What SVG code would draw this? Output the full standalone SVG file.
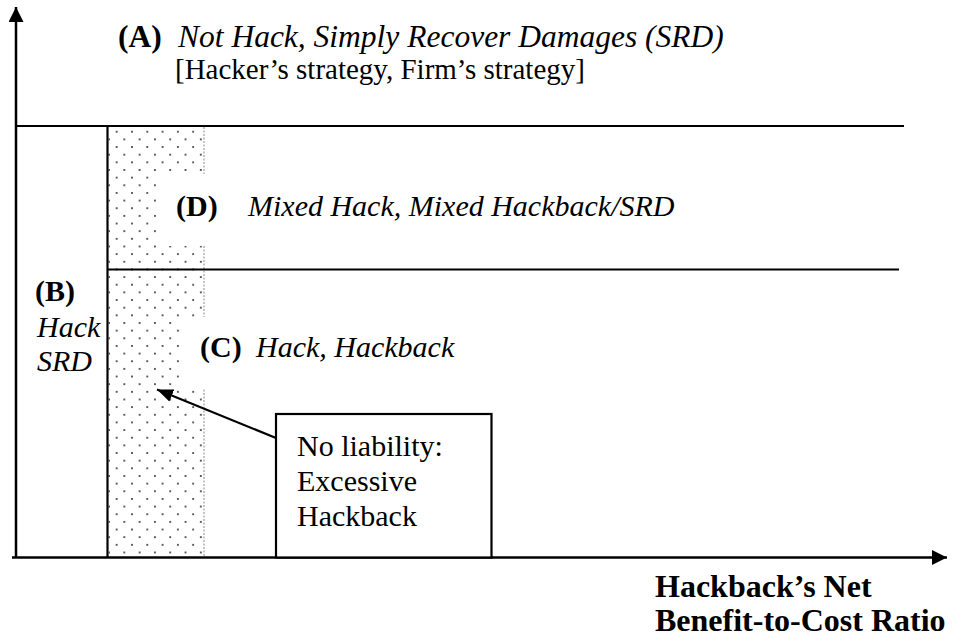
<svg xmlns="http://www.w3.org/2000/svg" width="961" height="642" viewBox="0 0 961 642">
<style>
  text { font-family: "Liberation Serif", "Times New Roman", serif; font-size: 30px; fill: #000; }
  .b { font-weight: bold; }
  .i { font-style: italic; }
  .big { font-size: 31.5px; }
  .sub { font-size: 29px; }
  .ax { font-weight: bold; font-size: 32px; }
  .line { stroke: #000; stroke-width: 2.2; fill: none; }
  .axis { stroke: #000; stroke-width: 2.5; fill: none; }
  .mask { fill: #fff; stroke: none; }
</style>
<defs>
  <pattern id="dots" patternUnits="userSpaceOnUse" x="105.2" y="127.9" width="15.3" height="15.3">
    <circle cx="11.47" cy="3.83" r="0.95" fill="#222"/>
    <circle cx="3.83" cy="11.47" r="0.95" fill="#222"/>
  </pattern>
  <marker id="axisHead" markerUnits="userSpaceOnUse" markerWidth="16" markerHeight="16" refX="15" refY="7.5" orient="auto">
    <path d="M0,0 L15,7.5 L0,15 z" fill="#000"/>
  </marker>
  <marker id="noteHead" markerUnits="userSpaceOnUse" markerWidth="17" markerHeight="14" refX="16" refY="6.5" orient="auto">
    <path d="M0,0 L16,6.5 L0,13 z" fill="#000"/>
  </marker>
</defs>
<rect width="961" height="642" fill="#fff"/>

<g id="no-liability-zone">
  <rect x="108.5" y="127" width="95.5" height="430" fill="url(#dots)"/>
  <line x1="204" y1="127" x2="204" y2="557" stroke="#888" stroke-width="1" stroke-dasharray="2,1.5"/>
</g>

<g id="boundaries">
  <line class="line" x1="16" y1="126" x2="904" y2="126"/>
  <line class="line" x1="107.5" y1="126" x2="107.5" y2="557"/>
  <line class="line" x1="107.5" y1="269.5" x2="899" y2="269.5"/>
</g>

<g id="axes">
  <line class="axis" x1="16" y1="557.5" x2="16" y2="7" marker-end="url(#axisHead)"/>
  <line class="axis" x1="12" y1="557.5" x2="947" y2="557.5" marker-end="url(#axisHead)"/>
  <text class="ax" x="655" y="597">Hackback’s Net</text>
  <text class="ax" x="655" y="631">Benefit-to-Cost Ratio</text>
</g>

<g id="region-A">
  <text class="big" x="118" y="47"><tspan class="b">(A)</tspan><tspan class="i" x="178">Not Hack, Simply Recover Damages (SRD)</tspan></text>
  <text class="sub" x="175" y="79">[Hacker’s strategy, Firm’s strategy]</text>
</g>

<g id="region-D">
  <rect class="mask" x="158" y="174" width="60" height="72"/>
  <text x="176" y="216"><tspan class="b">(D)</tspan><tspan class="i" x="248">Mixed Hack, Mixed Hackback/SRD</tspan></text>
</g>

<g id="region-C">
  <rect class="mask" x="180" y="317" width="40" height="72"/>
  <text x="200" y="357"><tspan class="b">(C)</tspan><tspan class="i" x="256">Hack, Hackback</tspan></text>
</g>

<g id="region-B">
  <text class="b" x="35" y="301">(B)</text>
  <text class="i" x="37" y="337">Hack</text>
  <text class="i" x="37" y="371">SRD</text>
</g>

<g id="note">
  <rect x="276" y="414" width="215.5" height="143.5" fill="#fff" stroke="#000" stroke-width="2.2"/>
  <text x="297" y="456">No liability:</text>
  <text x="297" y="491">Excessive</text>
  <text x="297" y="526">Hackback</text>
</g>

<g id="connectors">
  <line x1="276" y1="438" x2="157" y2="389.5" stroke="#000" stroke-width="2.2" marker-end="url(#noteHead)"/>
</g>
</svg>
